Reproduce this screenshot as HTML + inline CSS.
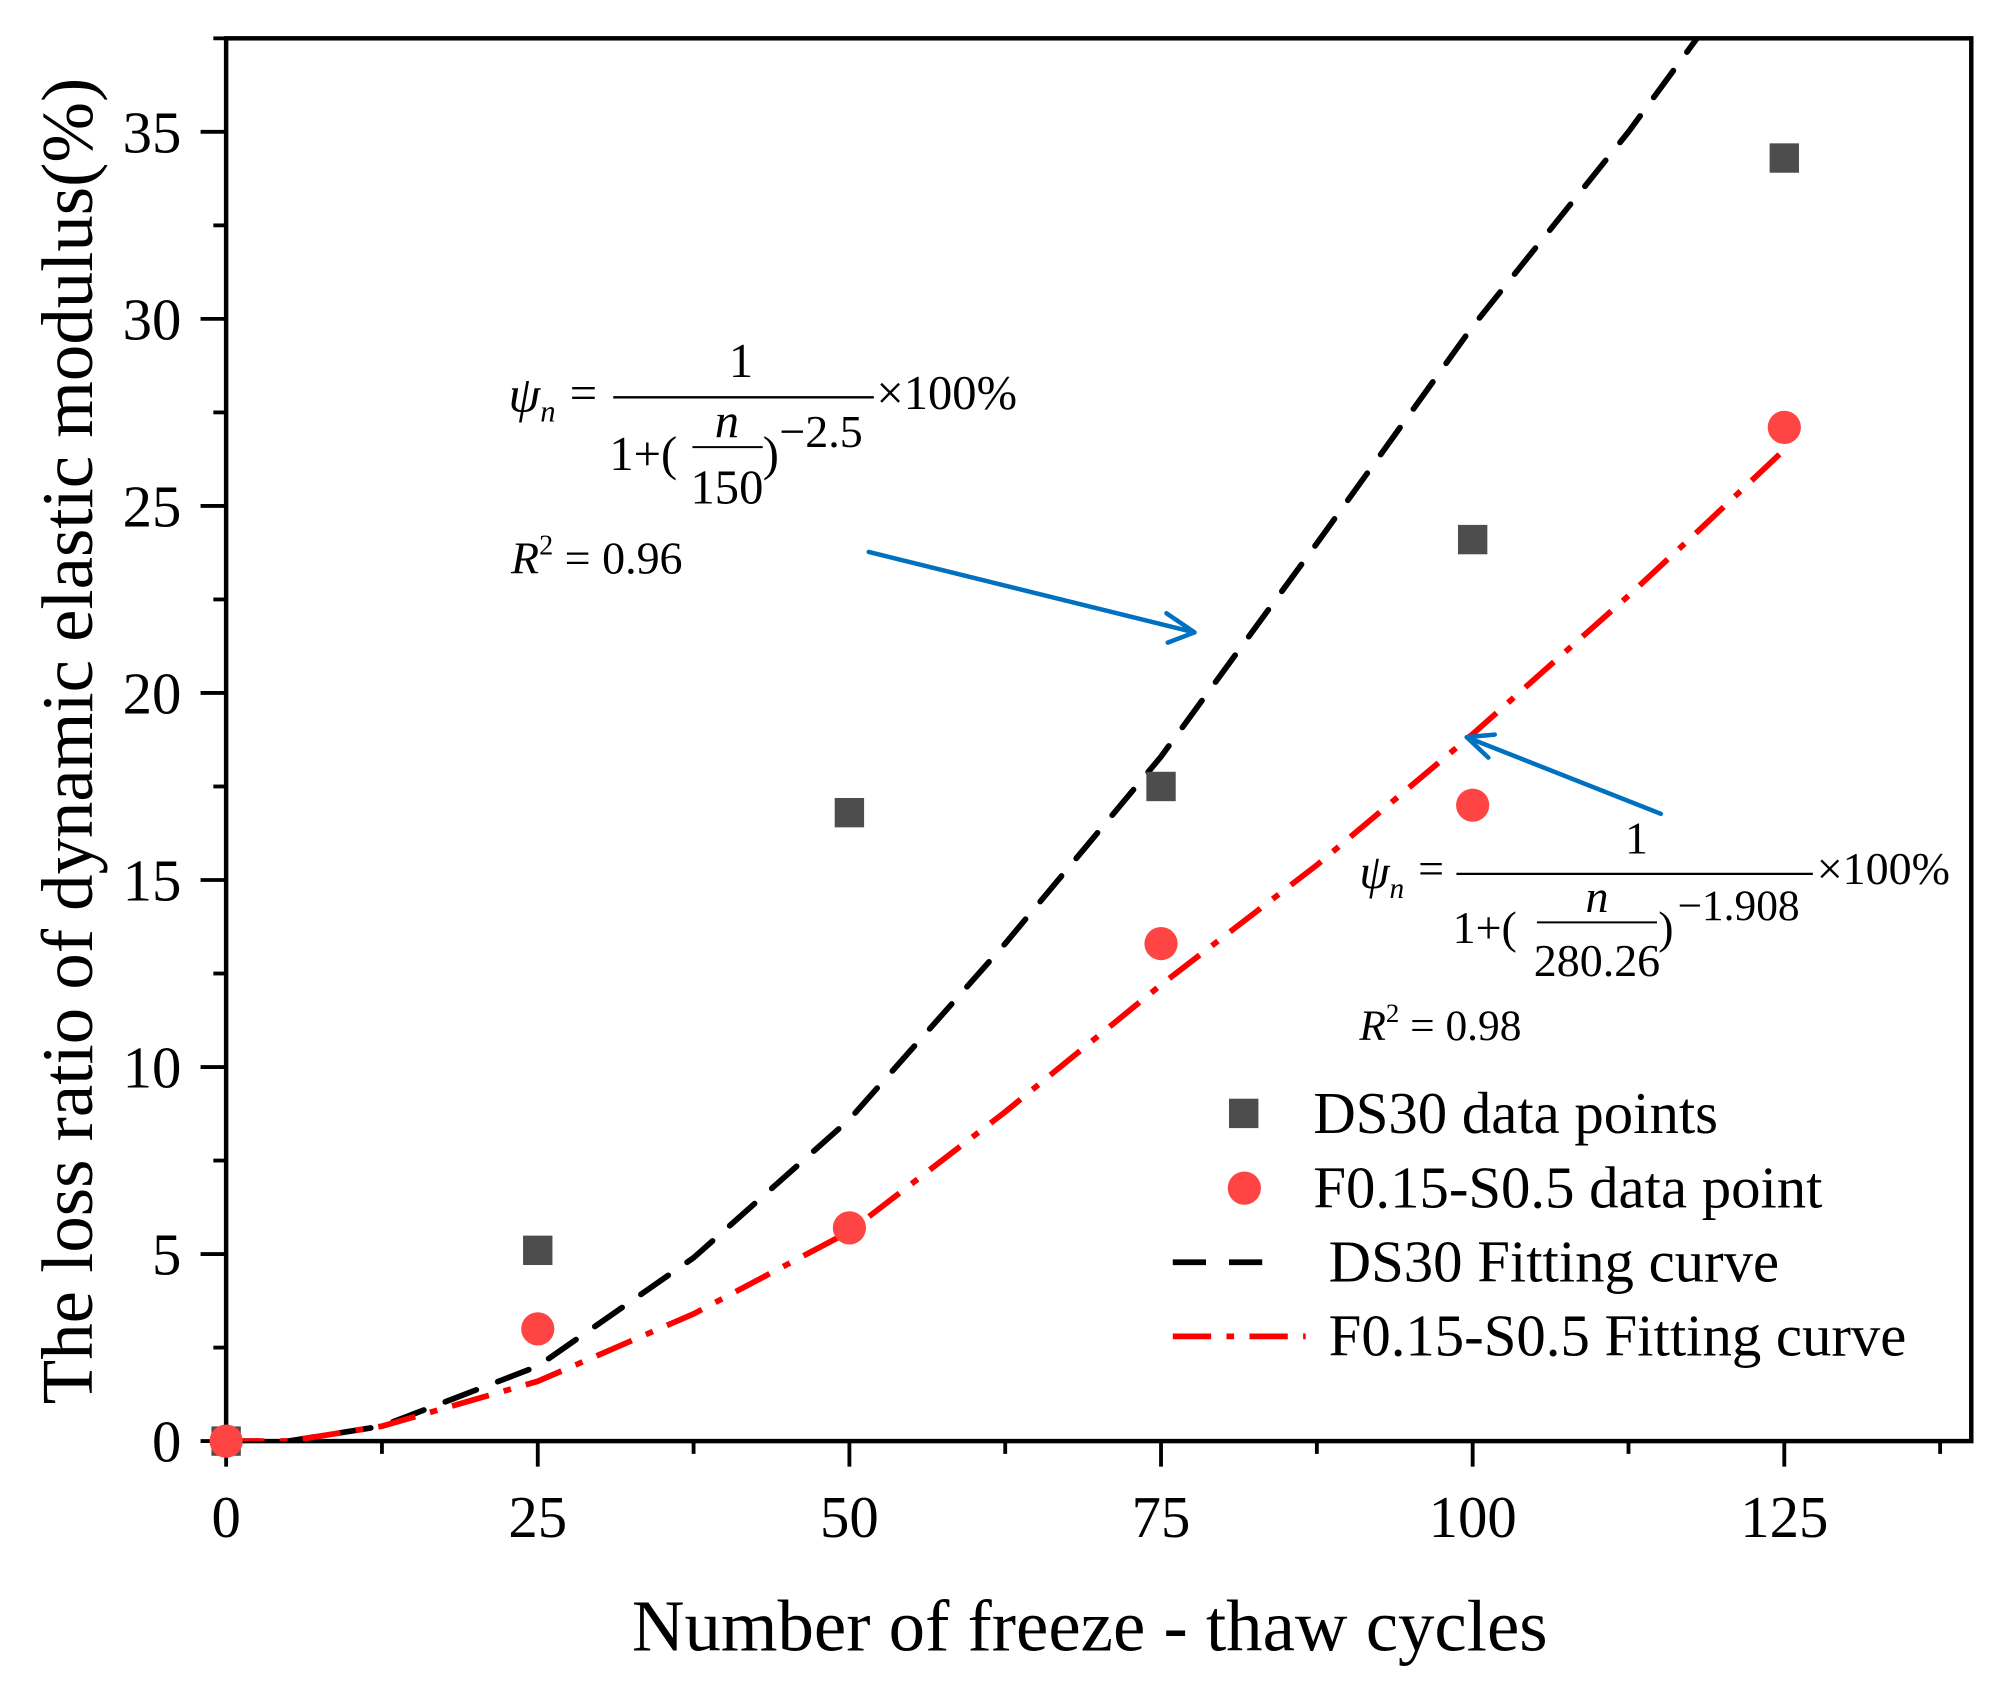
<!DOCTYPE html>
<html><head><meta charset="utf-8"><style>
html,body{margin:0;padding:0;background:#fff;}
svg{display:block;font-family:"Liberation Serif",serif;}
</style></head><body>
<svg id="chart" width="1993" height="1691" viewBox="0 0 1560 1323.6" xmlns="http://www.w3.org/2000/svg">
<defs>
<clipPath id="plotclip"><rect x="177" y="30" width="1366" height="1098"/></clipPath>
</defs>
<g id="axes"></g>
<g id="curves" clip-path="url(#plotclip)"></g>
<g id="points"></g>

<g font-size="38" fill="#000">
<text x="398" y="322" font-style="italic" font-size="40">ψ<tspan font-size="24" dy="8">n</tspan></text>
<text x="446" y="320">=</text>
<text x="580" y="295" text-anchor="middle">1</text>
<line x1="480" y1="311" x2="684" y2="311" stroke="#000" stroke-width="1.8"/>
<text x="686" y="320">×100%</text>
<text x="477" y="368">1+(</text>
<text x="569" y="342" text-anchor="middle" font-style="italic">n</text>
<line x1="542" y1="350" x2="597" y2="350" stroke="#000" stroke-width="1.6"/>
<text x="569" y="394" text-anchor="middle">150</text>
<text x="597" y="368">)</text>
<text x="610" y="350" font-size="36">−2.5</text>
<text x="400" y="449" font-style="italic" font-size="36">R<tspan font-style="normal" font-size="22" dy="-15">2</tspan><tspan font-style="normal" font-size="36" dy="15"> = 0.96</tspan></text>
</g>

<g font-size="36" fill="#000">
<text x="1064" y="695" font-style="italic" font-size="38">ψ<tspan font-size="23" dy="8">n</tspan></text>
<text x="1110" y="692">=</text>
<text x="1281" y="668" text-anchor="middle">1</text>
<line x1="1140" y1="684" x2="1419" y2="684" stroke="#000" stroke-width="1.8"/>
<text x="1422" y="692">×100%</text>
<text x="1137" y="738">1+(</text>
<text x="1250" y="714" text-anchor="middle" font-style="italic">n</text>
<line x1="1203" y1="722" x2="1297" y2="722" stroke="#000" stroke-width="1.6"/>
<text x="1250" y="764" text-anchor="middle">280.26</text>
<text x="1298" y="738">)</text>
<text x="1313" y="720" font-size="34">−1.908</text>
<text x="1064" y="814" font-style="italic" font-size="34">R<tspan font-style="normal" font-size="21" dy="-14">2</tspan><tspan font-style="normal" font-size="34" dy="14"> = 0.98</tspan></text>
</g>

<g stroke="#0070c0" stroke-width="3.5" fill="none" stroke-linecap="round">
<path d="M680 432 L935 495 M935 495 L913 480 M935 495 L914 503"/>
<path d="M1300 637 L1148 577 M1148 577 L1165 593 M1148 577 L1170 575"/>
</g>

<g font-size="46" fill="#000">
<rect x="962" y="860" width="23" height="23" fill="#4d4d4d"/>
<text x="1028" y="887">DS30 data points</text>
<circle cx="974" cy="930" r="13" fill="#ff4444"/>
<text x="1028" y="945">F0.15-S0.5 data point</text>
<line x1="918" y1="988" x2="1002" y2="988" stroke="#000" stroke-width="4.5" stroke-dasharray="26,18"/>
<text x="1040" y="1003">DS30 Fitting curve</text>
<line x1="918" y1="1046" x2="1022" y2="1046" stroke="#f00" stroke-width="4.5" stroke-dasharray="30,12,6,12"/>
<text x="1040" y="1061">F0.15-S0.5 Fitting curve</text>
</g>

<text x="853" y="1292" text-anchor="middle" font-size="57">Number of freeze - thaw cycles</text>
<text transform="translate(72,580) rotate(-90)" text-anchor="middle" font-size="57">The loss ratio of dynamic elastic modulus(%)</text>

<script>
const xTicks = [0, 25, 50, 75, 100, 125];
const yTicks = [0, 5, 10, 15, 20, 25, 30, 35];
const catX = [0, 25, 50, 75, 100, 125];
const ds30Values = [0, 5.1, 16.8, 17.5, 24.1, 34.3];
const f015Values = [0, 3.0, 5.7, 13.3, 17.0, 27.1];
const fitX = [0, 5, 12.5, 25, 37.5, 50, 62.5, 75, 87.5, 100, 112.5, 118, 125];
const ds30Fit = [0, 0, 0.4, 2.0, 4.9, 8.6, 13.3, 18.3, 24.0, 29.8, 35.0, 37.5, 40.5];
const f015Fit = [0, 0, 0.4, 1.6, 3.4, 5.6, 8.8, 12.2, 15.4, 18.9, 22.6, 24.3, 26.5];

const NS = 'http://www.w3.org/2000/svg';
const X0 = 177, X1 = 1543, Y0 = 1128, Y1 = 30, XMAX = 140, YMAX = 37.5;
function sx(v){ return X0 + v / XMAX * (X1 - X0); }
function sy(v){ return Y0 - v / YMAX * (Y0 - Y1); }
function mk(tag, attrs, parent){
  const e = document.createElementNS(NS, tag);
  for (const k in attrs) e.setAttribute(k, attrs[k]);
  parent.appendChild(e);
  return e;
}
const axes = document.getElementById('axes');
const frame = mk('rect', {x:X0, y:Y1, width:X1-X0, height:Y0-Y1, fill:'none', stroke:'#000', 'stroke-width':3.5}, axes);


for (let v = 0; v <= XMAX; v += 12.5) {
  const major = (v % 25 === 0);
  const t = mk('line', {x1:sx(v), x2:sx(v), y1:Y0, y2:Y0 + (major ? 20 : 10), stroke:'#000', 'stroke-width':3}, axes);
  
  
}
xTicks.forEach(v => {
  const t = mk('text', {x:sx(v), y:1203, 'text-anchor':'middle', 'font-size':46}, axes);
  t.textContent = v;
  
  
});
for (let v = 0; v <= YMAX; v += 2.5) {
  const major = (v % 5 === 0);
  const t = mk('line', {x1:X0 - (major ? 20 : 10), x2:X0, y1:sy(v), y2:sy(v), stroke:'#000', 'stroke-width':3}, axes);
  
  
}
yTicks.forEach(v => {
  const t = mk('text', {x:142, y:sy(v) + 16, 'text-anchor':'end', 'font-size':46}, axes);
  t.textContent = v;
  
  
});
const curves = document.getElementById('curves');
function pathFrom(xs, ys){ return xs.map((x,i)=>(i?'L':'M')+sx(x).toFixed(1)+' '+sy(ys[i]).toFixed(1)).join(' '); }
const c1 = mk('path', {d:pathFrom(fitX, ds30Fit), fill:'none', stroke:'#000', 'stroke-width':4.5, 'stroke-dasharray':'26,18', 'stroke-linecap':'round'}, curves);


const c2 = mk('path', {d:pathFrom(fitX, f015Fit), fill:'none', stroke:'#f00', 'stroke-width':4.5, 'stroke-dasharray':'30,12,6,12'}, curves);


const pts = document.getElementById('points');
catX.forEach((x,i) => {
  const r = mk('rect', {x:sx(x)-11.5, y:sy(ds30Values[i])-11.5, width:23, height:23, fill:'#4d4d4d'}, pts);
  
  
});
catX.forEach((x,i) => {
  const c = mk('circle', {cx:sx(x), cy:sy(f015Values[i]), r:13, fill:'#ff4444'}, pts);
  
  
});
</script>
</svg>
</body></html>
